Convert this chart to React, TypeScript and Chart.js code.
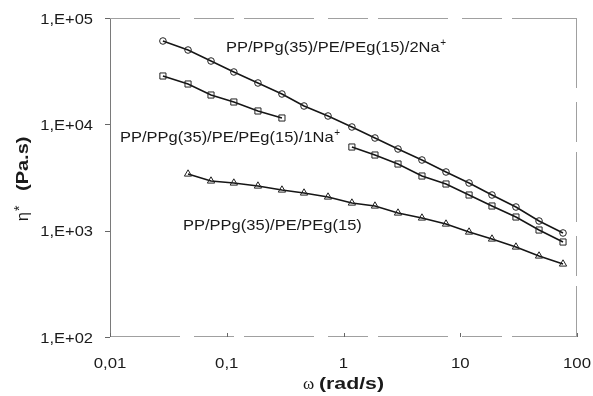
import React, { useEffect, useRef } from "react";
import { Chart, registerables } from "chart.js";

Chart.register(...registerables);

// angular frequency (rad/s)
const freq = [0.0284, 0.0466, 0.0733, 0.115, 0.185, 0.297, 0.459, 0.737, 1.18, 1.86, 2.93, 4.7, 7.55, 11.9, 18.7, 30.0, 47.3, 75.9];

// complex viscosity (Pa.s)
const na2Vals = [60780, 50000, 39400, 31060, 24480, 19290, 14875, 11980, 9440, 7438, 5861, 4619, 3563, 2807, 2165, 1669, 1233, 951];
const na1Vals = [28480, 23950, 18870, 16220, 13350, 11470, null, null, 6120, 5146, 4235, 3266, 2747, 2165, 1706, 1344, 1014, 782];
const baseVals = [null, 3411, 2932, 2807, 2630, 2412, 2261, 2073, 1820, 1706, 1466, 1316, 1155, 971, 835, 702, 578, 486];

const seriesNames = ["PP/PPg(35)/PE/PEg(15)/2Na", "PP/PPg(35)/PE/PEg(15)/1Na", "PP/PPg(35)/PE/PEg(15)"];

const xTickValues = [0.01, 0.1, 1, 10, 100];
const xTickLabels = ["0,01", "0,1", "1", "10", "100"];
const yTickValues = [100, 1000, 10000, 100000];
const yTickLabels = ["1,E+02", "1,E+03", "1,E+04", "1,E+05"];

const SANS = '"Liberation Sans", Arial, sans-serif';
const SERIF = '"Liberation Serif", "Times New Roman", serif';

function toPoints(vals: (number | null)[]) {
  return freq.map((f, i) => ({ x: f, y: vals[i] }));
}

function stretchText(ctx: CanvasRenderingContext2D, text: string, x: number, y: number, sx: number, align: CanvasTextAlign) {
  ctx.save();
  ctx.translate(x, y);
  ctx.scale(sx, 1);
  ctx.textAlign = align;
  ctx.fillText(text, 0, 0);
  ctx.restore();
}

const decorPlugin = {
  id: "decor",
  beforeDatasetsDraw(chart: any) {
    const { ctx, chartArea: a, scales } = chart;
    ctx.save();
    ctx.lineWidth = 1;
    // left axis
    ctx.strokeStyle = "#7a7a7a";
    ctx.beginPath();
    ctx.moveTo(a.left + 0.5, a.top);
    ctx.lineTo(a.left + 0.5, a.bottom);
    ctx.stroke();
    // top, right, bottom faint dashed
    ctx.strokeStyle = "#a0a0a0";
    ctx.setLineDash([70, 14, 40, 10]);
    ctx.beginPath();
    ctx.moveTo(a.left, a.top + 0.5);
    ctx.lineTo(a.right, a.top + 0.5);
    ctx.moveTo(a.right - 0.5, a.top);
    ctx.lineTo(a.right - 0.5, a.bottom);
    ctx.moveTo(a.left, a.bottom - 0.5);
    ctx.lineTo(a.right, a.bottom - 0.5);
    ctx.stroke();
    ctx.setLineDash([]);
    // ticks
    ctx.strokeStyle = "#666";
    ctx.beginPath();
    yTickValues.forEach((v) => {
      const y = Math.round(scales.y.getPixelForValue(v)) + 0.5;
      ctx.moveTo(a.left - 5, y);
      ctx.lineTo(a.left, y);
    });
    xTickValues.forEach((v) => {
      const x = Math.round(scales.x.getPixelForValue(v)) + 0.5;
      ctx.moveTo(x, a.bottom);
      ctx.lineTo(x, a.bottom - 4);
    });
    ctx.stroke();
    ctx.restore();
  },
  afterDatasetsDraw(chart: any) {
    const { ctx, chartArea: a, scales } = chart;
    ctx.save();
    ctx.fillStyle = "#1a1a1a";
    ctx.textBaseline = "alphabetic";

    // tick labels
    ctx.font = `15px ${SANS}`;
    yTickValues.forEach((v, i) => {
      const y = scales.y.getPixelForValue(v);
      stretchText(ctx, yTickLabels[i], 93, y + 5.5, 1.1, "right");
    });
    xTickValues.forEach((v, i) => {
      const x = scales.x.getPixelForValue(v);
      stretchText(ctx, xTickLabels[i], x, 368, 1.12, "center");
    });

    // series labels
    const labelPos = [
      { x: 226, y: 52, sup: "+" },
      { x: 120, y: 141.5, sup: "+" },
      { x: 183, y: 230, sup: "" },
    ];
    labelPos.forEach((p, i) => {
      ctx.font = `15px ${SANS}`;
      const sx = 1.1;
      const w = ctx.measureText(seriesNames[i]).width * sx;
      stretchText(ctx, seriesNames[i], p.x, p.y, sx, "left");
      if (p.sup) {
        ctx.font = `10px ${SANS}`;
        ctx.textAlign = "left";
        ctx.fillText(p.sup, p.x + w + 0.5, p.y - 6);
      }
    });

    // x axis title
    ctx.font = `17px ${SERIF}`;
    ctx.textAlign = "left";
    ctx.fillText("\u03c9", 303, 389);
    ctx.font = `bold 16px ${SANS}`;
    stretchText(ctx, "(rad/s)", 319, 389, 1.33, "left");

    // y axis title (rotated)
    ctx.save();
    ctx.translate(28, 221);
    ctx.rotate(-Math.PI / 2);
    ctx.font = `16px ${SANS}`;
    ctx.textAlign = "left";
    ctx.fillText("\u03b7", 0, 0);
    const ew = ctx.measureText("\u03b7").width;
    ctx.font = `14px ${SANS}`;
    ctx.fillText("*", ew + 1, -4);
    ctx.font = `bold 16px ${SANS}`;
    stretchText(ctx, "(Pa.s)", 30, 0, 1.25, "left");
    ctx.restore();

    ctx.restore();
  },
};

export default function App() {
  const ref = useRef<HTMLCanvasElement | null>(null);
  useEffect(() => {
    document.body.style.margin = "0";
    const canvas = ref.current;
    if (!canvas) return;
    const common = {
      borderColor: "#151515",
      borderWidth: 1.5,
      pointBackgroundColor: "rgba(255,255,255,0)",
      pointBorderColor: "#222",
      pointBorderWidth: 1,
      showLine: true,
      spanGaps: false,
      tension: 0,
    };
    const chart = new Chart(canvas, {
      type: "scatter",
      data: {
        datasets: [
          { ...common, label: seriesNames[0], data: toPoints(na2Vals), pointStyle: "circle", pointRadius: 3.3 },
          { ...common, label: seriesNames[1], data: toPoints(na1Vals), pointStyle: "rect", pointRadius: 4.3 },
          { ...common, label: seriesNames[2], data: toPoints(baseVals), pointStyle: "triangle", pointRadius: 4.2 },
        ] as any,
      },
      options: {
        animation: false,
        responsive: false,
        devicePixelRatio: 1,
        layout: { padding: { top: 18, right: 16, left: 0, bottom: 0 } },
        plugins: { legend: { display: false }, tooltip: { enabled: false } },
        scales: {
          x: {
            type: "logarithmic",
            min: 0.01,
            max: 100,
            grid: { display: false },
            border: { display: false },
            ticks: { display: false },
            afterFit: (s: any) => { s.height = 59; },
          },
          y: {
            type: "logarithmic",
            min: 100,
            max: 100000,
            grid: { display: false },
            border: { display: false },
            ticks: { display: false },
            afterFit: (s: any) => { s.width = 110; },
          },
        },
      } as any,
      plugins: [decorPlugin],
    });
    return () => chart.destroy();
  }, []);
  return (
    <div style={{ position: "absolute", left: 0, top: 0, width: 593, height: 396, background: "#fff" }}>
      <canvas ref={ref} width={593} height={396} style={{ width: 593, height: 396, display: "block" }} />
    </div>
  );
}
